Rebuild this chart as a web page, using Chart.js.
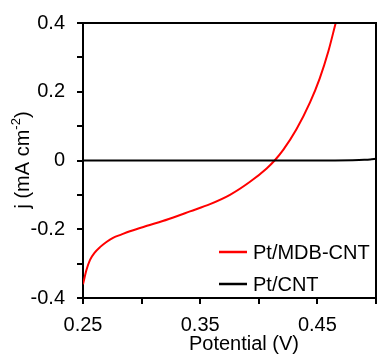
<!DOCTYPE html>
<html>
<head>
<meta charset="utf-8">
<script src="https://cdn.jsdelivr.net/npm/chart.js@4"></script>
<style>
    html, body { margin: 0; padding: 0; background: #fff; }
    canvas { display: block; }
</style>
</head>
<body>
<canvas id="grafico" width="379" height="356"></canvas>
<script>
// curvas de polarização: Pt/MDB-CNT vs Pt/CNT

// ===================== DADOS =====================
const potencialMDB = [0.250, 0.253, 0.256, 0.260, 0.2645, 0.270, 0.2756, 0.283, 0.290, 0.3046,
                      0.318, 0.330, 0.3413, 0.3584, 0.3754, 0.3925, 0.4067, 0.4135, 0.421, 0.432,
                      0.4437, 0.452, 0.4593, 0.465, 0.4656];
const correnteMDB  = [-0.360, -0.318, -0.289, -0.268, -0.252, -0.237, -0.225, -0.215, -0.206, -0.190,
                      -0.176, -0.162, -0.148, -0.127, -0.100, -0.062, -0.023, 0.000, 0.0315, 0.090,
                      0.169, 0.239, 0.317, 0.392, 0.400];

const potencialCNT = [0.25, 0.30, 0.35, 0.40, 0.45, 0.48, 0.49, 0.495, 0.50];
const correnteCNT  = [0.000, 0.000, 0.000, 0.000, 0.000, 0.001, 0.002, 0.003, 0.005];

const ticksX   = [0.25, 0.30, 0.35, 0.40, 0.45, 0.50];
const rotulosX = ["0.25", "", "0.35", "", "0.45", ""];
const ticksY   = [-0.4, -0.3, -0.2, -0.1, 0, 0.1, 0.2, 0.3, 0.4];
const rotulosY = ["-0.4", "", "-0.2", "", "0", "", "0.2", "", "0.4"];

const legendas = ["Pt/MDB-CNT", "Pt/CNT"];

// ===================== ESTILO =====================
const COR_MDB = "#ff0000";
const COR_CNT = "#000000";
const FONTE   = "'Liberation Sans', Arial, sans-serif";

function pares(xs, ys) {
    return xs.map((x, i) => ({ x, y: ys[i] }));
}

// moldura, títulos dos eixos e legenda dentro da área do gráfico
const extras = {
    id: "extras",
    afterDraw(chart) {
        const { ctx, chartArea: a } = chart;
        ctx.save();

        ctx.strokeStyle = "#000";
        ctx.lineWidth = 2;
        ctx.beginPath();
        ctx.moveTo(a.left, a.top);
        ctx.lineTo(a.right, a.top);
        ctx.lineTo(a.right, a.bottom);
        ctx.stroke();

        ctx.fillStyle = "#000";

        // eixo x
        ctx.font = `20px ${FONTE}`;
        ctx.textAlign = "center";
        ctx.textBaseline = "alphabetic";
        ctx.fillText("Potential (V)", 244, 350);

        // eixo y, com expoente
        ctx.translate(23, 160);
        ctx.rotate(-Math.PI / 2);
        const p1 = "j (mA cm", sup = "-2", p2 = ")";
        ctx.font = `20px ${FONTE}`;
        const w1 = ctx.measureText(p1).width, w3 = ctx.measureText(p2).width;
        ctx.font = `13px ${FONTE}`;
        const w2 = ctx.measureText(sup).width;
        let x = -(w1 + w2 + w3) / 2;
        ctx.textAlign = "left";
        ctx.textBaseline = "middle";
        ctx.font = `20px ${FONTE}`;
        ctx.fillText(p1, x, 0);
        x += w1;
        ctx.font = `13px ${FONTE}`;
        ctx.fillText(sup, x, -7);
        x += w2;
        ctx.font = `20px ${FONTE}`;
        ctx.fillText(p2, x, 0);
        ctx.setTransform(1, 0, 0, 1, 0, 0);

        // legenda
        const cores = [COR_MDB, COR_CNT];
        const ys = [252, 284];
        ctx.font = `20px ${FONTE}`;
        ctx.textAlign = "left";
        ctx.textBaseline = "middle";
        legendas.forEach((txt, i) => {
            ctx.strokeStyle = cores[i];
            ctx.lineWidth = 2.5;
            ctx.beginPath();
            ctx.moveTo(219, ys[i]);
            ctx.lineTo(247, ys[i]);
            ctx.stroke();
            ctx.fillText(txt, 253, ys[i] + 1);
        });

        ctx.restore();
    }
};

new Chart(document.getElementById("grafico"), {
    type: "line",
    data: {
        datasets: [
            {
                label: legendas[1],
                data: pares(potencialCNT, correnteCNT),
                borderColor: COR_CNT,
                borderWidth: 2,
                pointRadius: 0,
                cubicInterpolationMode: "monotone",
            },
            {
                label: legendas[0],
                data: pares(potencialMDB, correnteMDB),
                borderColor: COR_MDB,
                borderWidth: 2,
                pointRadius: 0,
                cubicInterpolationMode: "monotone",
            },
        ],
    },
    options: {
        responsive: false,
        animation: false,
        layout: { padding: { left: 0, top: 23, right: 3, bottom: 0 } },
        plugins: {
            legend: { display: false },
            tooltip: { enabled: false },
        },
        scales: {
            x: {
                type: "linear",
                min: 0.25,
                max: 0.50,
                afterFit: s => { s.height = 58; s.paddingLeft = 0; s.paddingRight = 0; },
                afterBuildTicks: s => { s.ticks = ticksX.map(v => ({ value: v })); },
                ticks: {
                    autoSkip: false,
                    maxRotation: 0,
                    padding: 9,
                    color: "#000",
                    font: { family: FONTE, size: 20 },
                    callback: (v, i) => rotulosX[i],
                },
                grid: { drawOnChartArea: false, tickLength: 6, color: "#000", lineWidth: 2 },
                border: { color: "#000", width: 2 },
            },
            y: {
                min: -0.4,
                max: 0.4,
                afterFit: s => { s.width = 83; s.paddingTop = 0; s.paddingBottom = 0; },
                afterBuildTicks: s => { s.ticks = ticksY.map(v => ({ value: v })); },
                ticks: {
                    autoSkip: false,
                    padding: 12,
                    color: "#000",
                    font: { family: FONTE, size: 20 },
                    callback: (v, i) => rotulosY[i],
                },
                grid: { drawOnChartArea: false, tickLength: 6, color: "#000", lineWidth: 2 },
                border: { color: "#000", width: 2 },
            },
        },
    },
    plugins: [extras],
});
</script>
</body>
</html>
